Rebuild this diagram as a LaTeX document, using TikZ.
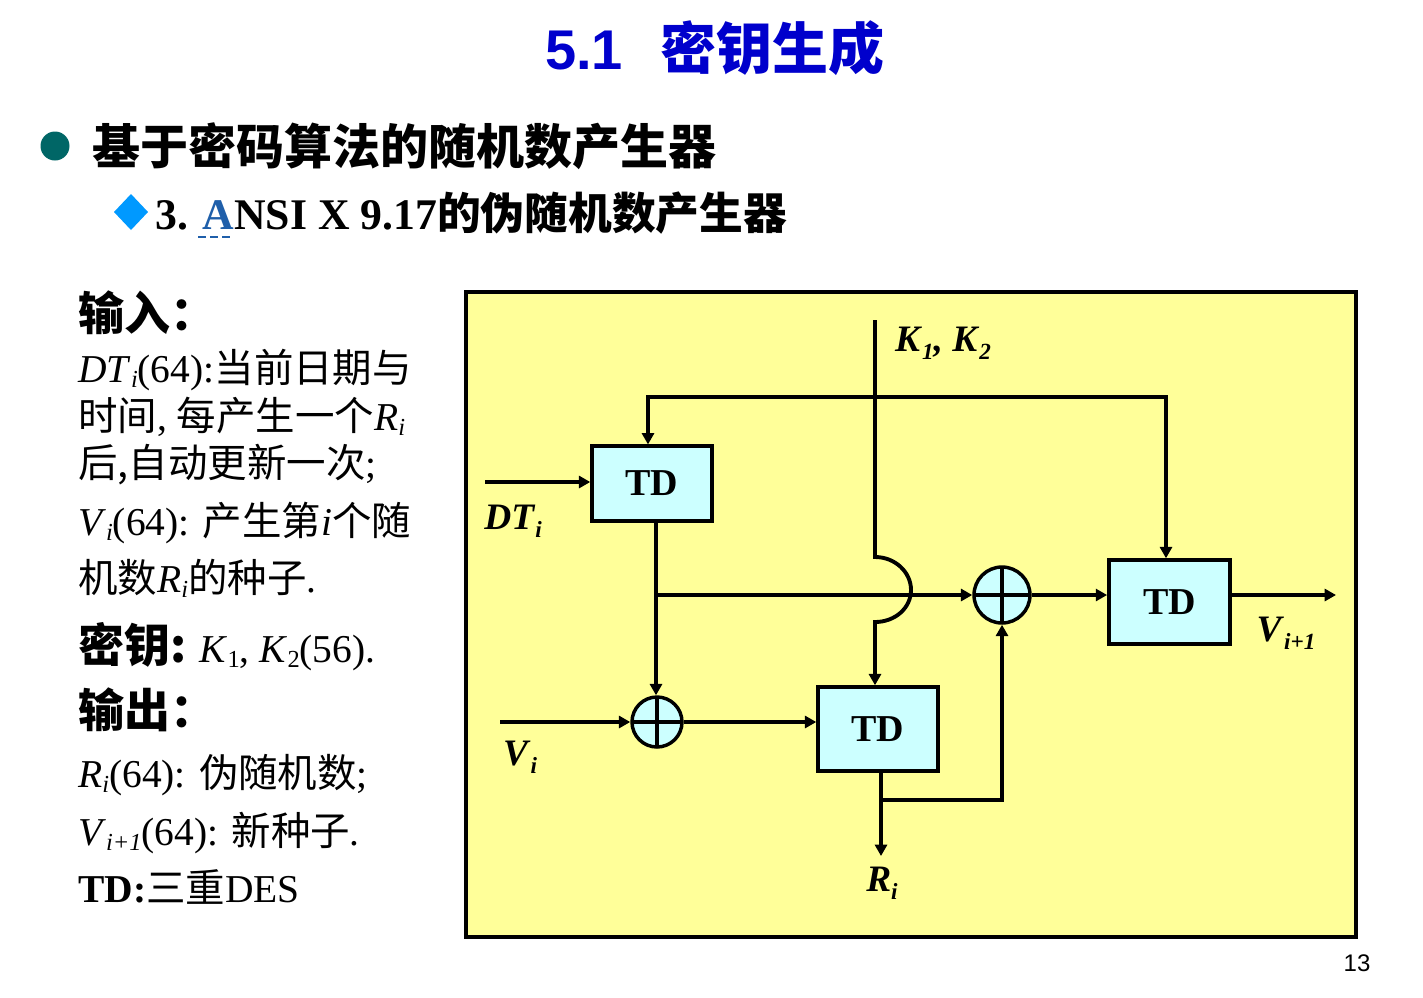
\documentclass[tikz,border=0pt]{standalone}
\usepackage{fontspec}
\usepackage{graphicx}
\setmainfont{Liberation Serif}
\newfontfamily\cjk{Noto Sans CJK SC}
\newfontfamily\lsans{Liberation Sans}
\usetikzlibrary{arrows.meta}
\definecolor{titleblue}{RGB}{0,0,204}
\definecolor{bullteal}{RGB}{0,102,102}
\definecolor{diamblue}{RGB}{0,153,255}
\definecolor{ablue}{RGB}{31,95,170}
\definecolor{paneyellow}{RGB}{255,255,153}
\definecolor{boxcyan}{RGB}{204,255,255}
\newcommand\zh[1]{{\cjk #1}}
\newcommand\dn[1]{\raisebox{-0.3ex}{\scalebox{0.62}{#1}}}
\newcommand\dnn[1]{\raisebox{-0.45ex}{\scalebox{0.62}{#1}}}
\newcommand\bi[1]{\textbf{\textit{#1}}}
\begin{document}
\begin{tikzpicture}[x=0.75pt,y=-0.75pt,
  tip/.tip={Triangle[length=8.5pt,width=9pt]},
  wire/.style={line width=2.9pt},
  arr/.style={wire,-tip},
  tdbox/.style={draw,line width=2.6pt,fill=boxcyan,inner sep=0pt,
    font=\bfseries\fontsize{28.5}{30}\selectfont},
  xor/.style={circle,draw,line width=2.6pt,fill=boxcyan,inner sep=0pt,
    path picture={\draw[line width=2.6pt]
      (path picture bounding box.north) -- (path picture bounding box.south)
      (path picture bounding box.west) -- (path picture bounding box.east);}},
  lbl/.style={font=\fontsize{28}{30}\selectfont},
  body/.style={anchor=base west,inner sep=0pt,font=\fontsize{29.6}{36}\selectfont},
  bodyb/.style={anchor=base west,inner sep=0pt,font=\cjk\bfseries\fontsize{34.5}{40}\selectfont}
]
\useasboundingbox[fill=white] (0,0) rectangle (1423,997);

% title
\node[anchor=base west,inner sep=0pt,text=titleblue,font=\lsans\bfseries\fontsize{42}{48}\selectfont] (t51) at (545,69) {5.1};
\node[anchor=base west,inner sep=0pt,text=titleblue,font=\cjk\bfseries\fontsize{42}{48}\selectfont] (ttl) at (660,69) {密钥生成};

% headings
\fill[bullteal] (55,146) circle[radius=14.5];
\node[anchor=base west,inner sep=0pt,font=\cjk\bfseries\fontsize{36}{42}\selectfont] (h1) at (92,164) {基于密码算法的随机数产生器};
\fill[diamblue] (131,194) -- (148,212) -- (131,230) -- (114,212) -- cycle;
\node[anchor=base west,inner sep=0pt,font=\bfseries\fontsize{32.8}{40}\selectfont] (h2) at (155,229)
  {3. \textcolor{ablue}{A}NSI X 9.17\zh{\fontsize{32.8}{40}\selectfont 的伪随机数产生器}};
\draw[ablue,line width=2.2pt,dash pattern=on 6pt off 3pt] (198,237) -- (230,237);

% left text
\node[bodyb] (l1) at (78,330) {输入：};
\node[body] (l2) at (78,382) {\textit{DT}\dn{\textit{i}}(64):\zh{当前日期与}};
\node[body] (l3) at (78,430) {\zh{时间}, \zh{每产生一个}\textit{R}\dn{\textit{i}}};
\node[body] (l4) at (78,477) {\zh{后}\zh{,自动更新一次};};
\node[body] (l5) at (78,535) {\textit{V}\dn{\textit{i}}(64): \zh{产生第}\textit{i}\zh{个随}};
\node[body] (l6) at (78,592) {\zh{机数}\textit{R}\dn{\textit{i}}\zh{的种子}.};
\node[body] (l7) at (78,662) {{\cjk\bfseries\fontsize{34.5}{40}\selectfont 密钥:} \textit{K}\dn{1}, \textit{K}\dn{2}(56).};
\node[bodyb] (l8) at (78,727) {输出：};
\node[body] (l9) at (78,787) {\textit{R}\dn{\textit{i}}(64): \zh{伪随机数};};
\node[body] (l10) at (78,845) {\textit{V}\dn{\textit{i+1}}(64): \zh{新种子}.};
\node[body] (l11) at (78,902) {\textbf{TD:}\zh{三重}DES};

% panel
\draw[line width=2.6pt,fill=paneyellow] (466,292) rectangle (1356,937);

% blocks
\node[tdbox,minimum width=90pt,minimum height=56pt] (td1) at (652,483.5) {TD};
\node[tdbox,minimum width=90pt,minimum height=63pt] (td2) at (878,729) {TD};
\node[tdbox,minimum width=91pt,minimum height=63pt] (td3) at (1169.5,602) {TD};
\node[xor,minimum size=37.5pt] (x1) at (657,722) {};
\node[xor,minimum size=42pt] (x2) at (1002,595) {};

% coordinates
\coordinate (dtin) at (485,482);
\coordinate (ktop) at (875,320);
\coordinate (hopa) at (875,557);
\coordinate (hopb) at (875,622);
\coordinate (tl) at (648,397);
\coordinate (tr) at (1166,397);
\coordinate (b1) at (656,595);
\coordinate (vin) at (500,722);
\coordinate (rb) at (881,800);
\coordinate (rout) at (881,856);
\coordinate (vout) at (1336,595);

% connectors
\draw[arr] (dtin) -- (td1.west |- dtin);
\draw[wire,tip-tip] (td1.north -| tl) -- (tl) -- (tr) -- (td3.north -| tr);
\draw[arr] (ktop) -- (hopa) .. controls (895,557) and (911,572) .. (911,590)
  .. controls (911,608) and (895,622) .. (hopb) -- (td2.north -| hopb);
\draw[arr] (td1.south -| b1) -- (x1.north -| b1);
\draw[arr] (b1) -- (x2.west);
\draw[arr] (vin) -- (x1.west);
\draw[arr] (x1.east) -- (td2.west |- x1.east);
\draw[arr] (td2.south -| rb) -- (rout);
\draw[arr] (rb) -- (rb -| x2.south) -- (x2.south);
\draw[arr] (x2.east) -- (td3.west |- x2.east);
\draw[arr] (td3.east |- vout) -- (vout);

% labels
\node[lbl] (ldt) at (513,521) {\bi{DT}\dnn{\bi{i}}};
\node[lbl] (lk) at (943,343) {\bi{K}\dnn{\bi{1}}\bi{,} \bi{K}\dnn{\bi{2}}};
\node[lbl] (lv) at (520,757) {\bi{V}\dnn{\bi{i}}};
\node[lbl] (lr) at (882,883) {\bi{R}\dnn{\bi{i}}};
\node[lbl] (lvo) at (1286,633) {\bi{V}\dnn{\bi{i+1}}};

% page number
\node[font=\lsans\fontsize{18}{20}\selectfont] (pg) at (1357,963) {13};
\end{tikzpicture}
\end{document}
